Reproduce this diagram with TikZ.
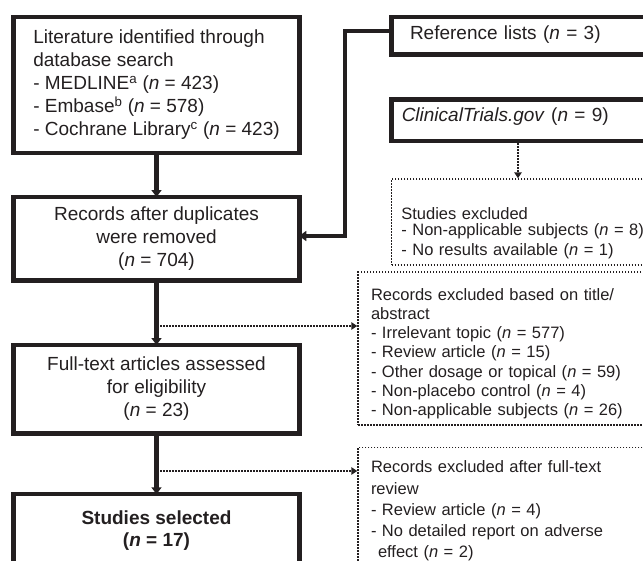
\documentclass[tikz,border=0pt]{standalone}
\usepackage{fontspec}
\setmainfont{Liberation Sans}
\usetikzlibrary{arrows.meta}
\definecolor{ink}{HTML}{231F20}
\begin{document}
\begin{tikzpicture}[x=1pt,y=-1pt,
  mainbox/.style={draw=ink, text=ink, line width=4.5pt, inner sep=0pt, font=\fontsize{19}{23}\selectfont},
  dotbox/.style={draw=ink, text=ink, line width=1.5pt, dash pattern=on 1.5pt off 1.5pt, inner sep=0pt, font=\fontsize{16.5}{20}\selectfont, align=left},
  mainarrow/.style={draw=ink, line width=4.5pt, -{Triangle[length=7pt,width=10pt]}, shorten >=-2.5pt},
  dotarrow/.style={draw=ink, line width=1.5pt, dash pattern=on 1.5pt off 1.5pt, -{Triangle[length=6pt,width=7.5pt]}}]
\useasboundingbox (0,0) rectangle (643,560);

% main column
\node[mainbox, minimum width=286pt, minimum height=136pt, align=left] (lit) at (156.5,85)
  {Literature identified through\\database search\\- MEDLINE\textsuperscript{a} (\textit{n} = 423)\\- Embase\textsuperscript{b} (\textit{n} = 578)\\- Cochrane Library\textsuperscript{c} (\textit{n} = 423)};
\node[mainbox, minimum width=286pt, minimum height=83.5pt, align=center] (rec) at (156.5,238.5)
  {Records after duplicates\\were removed\\(\textit{n} = 704)};
\node[mainbox, minimum width=286pt, minimum height=88.5pt, align=center] (full) at (156.5,389)
  {Full-text articles assessed\\for eligibility\\(\textit{n} = 23)};
\node[mainbox, minimum width=286pt, minimum height=74pt, align=center, font=\fontsize{19}{22}\selectfont\bfseries] (sel) at (156.5,531)
  {Studies selected\\(\textit{n} = 17)};

% right column, solid boxes
\node[mainbox, minimum width=268.5pt, text width=231.5pt, inner xsep=18.5pt, align=left, text height=22pt, text depth=15.5pt] (ref) at (525.75,35.75)
  {Reference lists (\textit{n} = 3)};
\node[mainbox, minimum width=268.5pt, text width=248pt, inner xsep=10.25pt, align=left, text height=21.3pt, text depth=20pt] (ct) at (525.75,120.35)
  {\textit{ClinicalTrials.gov} (\textit{n} = 9)};

% right column, dotted boxes
\node[dotbox, minimum width=268.3pt, text width=249pt, inner xsep=9.6pt, text height=40pt, text depth=46pt, font=\fontsize{16.5}{19.5}\selectfont] (sex) at (525.85,222)
  {Studies excluded\\[-3pt]- Non-applicable subjects (\textit{n} = 8)\\- No results available (\textit{n} = 1)};
\node[dotbox, minimum width=302pt, text width=276pt, inner xsep=13pt, text height=28pt, text depth=125pt, font=\fontsize{16.5}{19.3}\selectfont] (rex) at (509,348.5)
  {Records excluded based on title/\\abstract\\- Irrelevant topic (\textit{n} = 577)\\- Review article (\textit{n} = 15)\\- Other dosage or topical (\textit{n} = 59)\\- Non-placebo control (\textit{n} = 4)\\- Non-applicable subjects (\textit{n} = 26)};
\node[dotbox, minimum width=302pt, text width=276pt, inner xsep=13pt, text height=25.3pt, text depth=120pt, anchor=north, font=\fontsize{16.5}{21.3}\selectfont] (fex) at (509,446.7)
  {Records excluded after full-text\\review\\- Review article (\textit{n} = 4)\\- No detailed report on adverse\\\hspace*{7pt}effect (\textit{n} = 2)};

% connectors
\coordinate (j1) at (345,236);
\coordinate (c1) at (518,0);
\coordinate (d1) at (160,326);
\coordinate (d2) at (160,471);

\draw[dotarrow] (d1) -- (d1 -| rex.west);
\draw[dotarrow] (d2) -- (d2 -| fex.west);
\draw[dotarrow] (ct.south -| c1) -- (sex.north -| c1);

\draw[mainarrow] (lit) -- (rec);
\draw[mainarrow] (rec) -- (full);
\draw[mainarrow] (full) -- (sel);
\draw[mainarrow] ([yshift=4.75pt]ref.west) -| (j1) -- (j1 -| rec.east);
\end{tikzpicture}
\end{document}
